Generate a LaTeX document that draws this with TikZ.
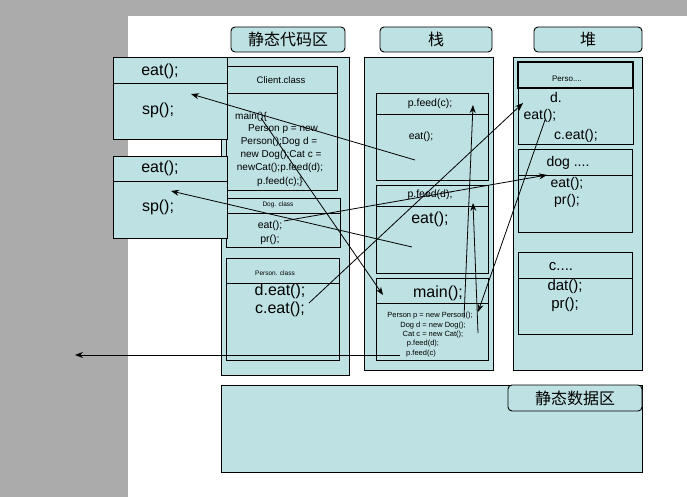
\documentclass[tikz,border=0pt]{standalone}
\usepackage{fontspec}
\setmainfont{Liberation Sans}
\newfontfamily\cjk{Noto Sans CJK SC}
\usetikzlibrary{arrows.meta,fit}
\definecolor{lb}{HTML}{BEE1E3}
\definecolor{bggray}{HTML}{ABABAB}
\tikzset{
  box/.style={draw=black, fill=lb, line width=0.9pt, inner sep=0pt, outer sep=0pt},
  titlebox/.style={box, rounded corners=4pt},
  hline/.style={line width=0.9pt},
  t/.style={inner sep=0pt, font=\fontsize{#1pt}{#1pt}\selectfont},
  ct/.style={inner sep=0pt, font=\cjk\fontsize{#1pt}{#1pt}\selectfont},
  arr/.style={-{Stealth[length=8pt,width=6pt]}, line width=0.8pt},
}
\newcommand\rbox[6][box]{\node[#1, fit={(#3,#4) (#5,#6)}] (#2) {};}
\begin{document}
\begin{tikzpicture}[x=1pt,y=-1pt]
\useasboundingbox (0,0) rectangle (687,497);
\fill[bggray] (0,0) rectangle (687,497);
\fill[white] (128,16) rectangle (687,497);

% titles
\rbox[titlebox]{t1}{231}{27}{345}{52}
\rbox[titlebox]{t2}{380}{27}{492}{52}
\rbox[titlebox]{t3}{534}{27}{642}{52}
\node[ct=16] (t1l) at (t1) {静态代码区};
\node[ct=16] (t2l) at (t2) {栈};
\node[ct=16] (t3l) at (t3) {堆};

% containers
\rbox{c1}{221}{57}{349}{375}
\rbox{c2}{364}{57}{493}{370}
\rbox{c3}{513}{57}{642}{370}

% static data area
\rbox{sd}{221}{385}{642}{472}
\rbox[titlebox]{sdl}{508}{385}{642}{411}
\node[ct=16] (sdlt) at (sdl) {静态数据区};

% static code boxes
\rbox{client}{226}{66}{337}{190}
\draw[hline] (226,93) -- (337,93);
\node[t=9.5] (clientt) at (281,80) {Client.class};
\node[t=10,anchor=west] (m0) at (235,117) {main()\{};
\node[t=10] (m1) at (283,129) {Person p = new};
\node[t=10] (m2) at (279,142) {Person();Dog d =};
\node[t=10] (m3) at (281,155) {new Dog();Cat c =};
\node[t=10] (m4) at (280,168) {newCat();p.feed(d);};
\node[t=10] (m5) at (280,182) {p.feed(c);\}};

\rbox{dog}{226}{198}{340}{247}
\draw[hline] (226,213) -- (340,213);
\node[t=6.5] (dogt) at (278,204.5) {Dog. class};
\node[t=10.5] (doge) at (270,226) {eat();};
\node[t=10.5] (dogp) at (270,240) {pr();};

\rbox{person}{226}{258}{339}{360}
\draw[hline] (226,283) -- (339,283);
\node[t=6.5] (persont) at (275,273) {Person. class};
\node[t=16] (persond) at (280,291) {d.eat();};
\node[t=16] (personc) at (280,309) {c.eat();};

% left boxes
\rbox{l1}{113}{57}{227}{139}
\draw[hline] (113,83) -- (227,83);
\node[t=16] (l1e) at (160,71) {eat();};
\node[t=16] (l1s) at (158,110) {sp();};
\rbox{l2}{113}{156}{227}{238}
\draw[hline] (113,181) -- (227,181);
\node[t=16] (l2e) at (160,168) {eat();};
\node[t=16] (l2s) at (158,207) {sp();};

% stack frames
\rbox{pfc}{376}{93}{488}{180}
\draw[hline] (376,114) -- (488,114);
\node[t=10.5] (pfct) at (430,104) {p.feed(c);};
\node[t=10.5] (pfce) at (421,137) {eat();};

\rbox{pfd}{376}{185}{488}{273}
\draw[hline] (376,206) -- (488,206);
\node[t=10.5] (pfdt) at (430,195) {p.feed(d);};
\node[t=16] (pfde) at (430,219) {eat();};

\rbox{mainf}{376}{278}{488}{360}
\draw[hline] (376,303) -- (488,303);
\node[t=16] (maint) at (438,293) {main();};
\node[t=7.5] (mb1) at (430,316) {Person p = new Person();};
\node[t=7.5] (mb2) at (433,325.5) {Dog d = new Dog();};
\node[t=7.5] (mb3) at (433,335) {Cat c = new Cat();};
\node[t=7.5] (mb4) at (423,344) {p.feed(d);};
\node[t=7.5] (mb5) at (421,354) {p.feed(c)};

% heap objects
\rbox{hp}{518}{62}{633}{144}
\draw[line width=1.6pt] (518,62) rectangle (633,88);
\node[t=8] (hpt) at (567,79) {Perso....};
\node[t=14] (hpd) at (556,97) {d.};
\node[t=14] (hpe) at (540,116) {eat();};
\node[t=14] (hpc) at (576,136) {c.eat();};

\rbox{hd}{518}{149}{632}{232}
\draw[hline] (518,175) -- (632,175);
\node[t=14] (hdt) at (568,163) {dog ....};
\node[t=14] (hde) at (567,184) {eat();};
\node[t=14] (hdp) at (567,201) {pr();};

\rbox{hc}{518}{252}{632}{334}
\draw[hline] (518,278) -- (632,278);
\node[t=15] (hct) at (561,267) {c....};
\node[t=15] (hce) at (565,287) {dat();};
\node[t=15] (hcp) at (565,305) {pr();};

% arrow end points
\coordinate (a1s) at (415,160); \coordinate (a1e) at (191,94);
\coordinate (a2s) at (412,247); \coordinate (a2e) at (171,191);
\coordinate (a3s) at (261,118); \coordinate (a3e) at (383,295);
\coordinate (a4s) at (284,221); \coordinate (a4e) at (547,175);
\coordinate (a5s) at (309,303); \coordinate (a5e) at (523,103);
\coordinate (a6s) at (464,318); \coordinate (a6e) at (473,105);
\coordinate (a7s) at (478,333); \coordinate (a7e) at (473,203);
\coordinate (a8s) at (545,120); \coordinate (a8e) at (478,312);
\coordinate (a9s) at (400,355); \coordinate (a9e) at (75,355);

\draw[arr] (a1s) -- (a1e);
\draw[arr] (a2s) -- (a2e);
\draw[arr] (a3s) -- (a3e);
\draw[arr] (a4s) -- (a4e);
\draw[arr] (a5s) -- (a5e);
\draw[arr] (a6s) -- (a6e);
\draw[arr] (a7s) -- (a7e);
\draw[arr] (a8s) -- (a8e);
\draw[arr] (a9s) -- (a9e);
\end{tikzpicture}
\end{document}
